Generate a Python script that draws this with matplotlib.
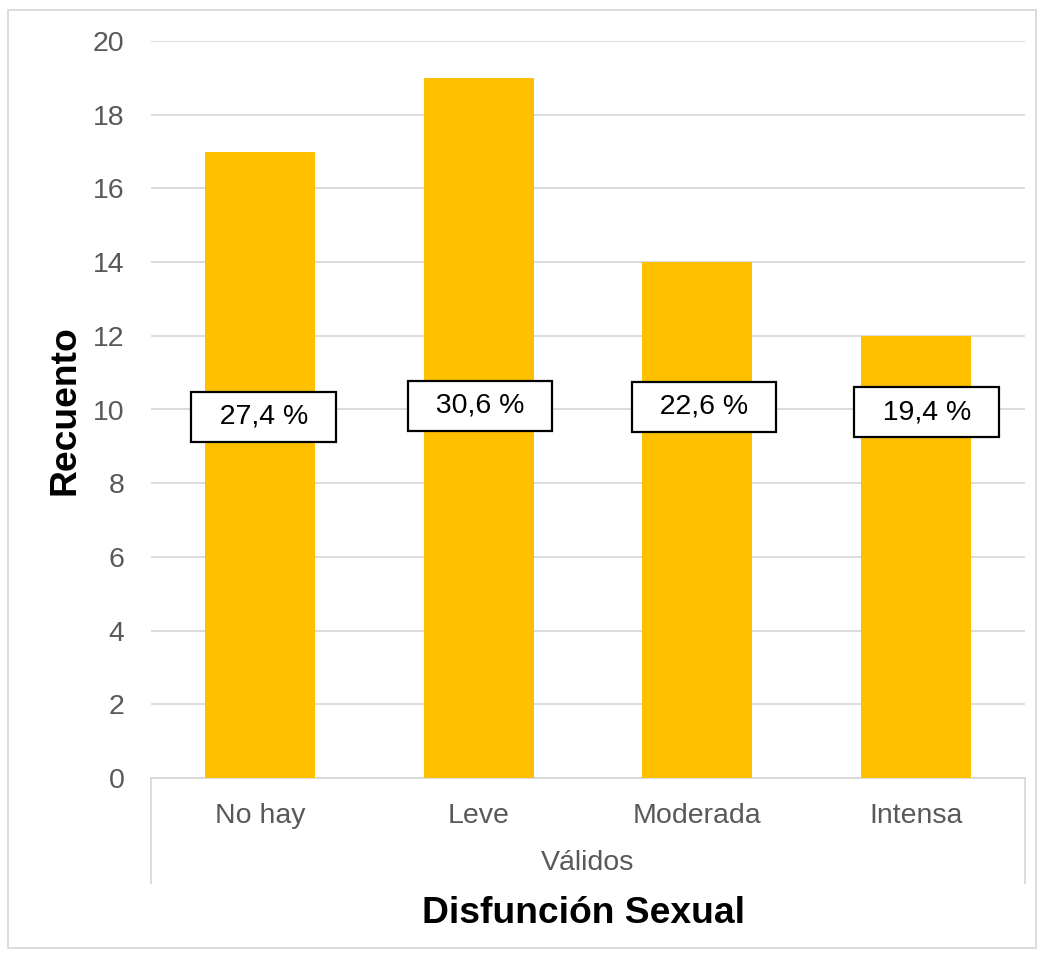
import matplotlib
matplotlib.use("Agg")
import matplotlib.pyplot as plt
from matplotlib.patches import Rectangle
from matplotlib.lines import Line2D

categories = ["No hay", "Leve", "Moderada", "Intensa"]
counts = [17, 19, 14, 12]
pct_labels = ["27,4 %", "30,6 %", "22,6 %", "19,4 %"]
label_y = [9.8, 10.1, 10.07, 9.93]
label_dx = [0.015, 0.005, 0.03, 0.05]
group_label = "Válidos"
x_title = "Disfunción Sexual"
y_title = "Recuento"
yticks = [0, 2, 4, 6, 8, 10, 12, 14, 16, 18, 20]

plt.rcParams['font.family'] = ['Liberation Sans', 'DejaVu Sans']

FS = 20.5
TFS = 26.8

fig = plt.figure(figsize=(10.43, 9.55), dpi=100)
ax = fig.add_axes([151/1043, 1-778/955, (1025-151)/1043, (778-41)/955])

x = list(range(len(categories)))
ax.bar(x, counts, width=0.505, color="#FFC000", zorder=3,
       edgecolor="none")
ax.set_xlim(-0.5, len(categories)-0.5)
ax.set_ylim(0, 20)
ax.set_yticks(yticks)
ax.yaxis.grid(True, color="#D9D9D9", linewidth=1.3, zorder=0)
ax.set_axisbelow(True)
for s in ["top", "right", "left"]:
    ax.spines[s].set_visible(False)
ax.spines["bottom"].set_color("#D9D9D9")
ax.spines["bottom"].set_linewidth(1.3)
ax.tick_params(axis="y", length=0, pad=19, labelsize=FS, labelcolor="#595959")
ax.tick_params(axis="x", length=0, pad=18, labelsize=FS, labelcolor="#595959")
ax.set_xticks(x)
ax.set_xticklabels(categories)

for xi, lab, ly, dx in zip(x, pct_labels, label_y, label_dx):
    ax.text(xi + dx, ly, "  " + lab + "  ", ha="center", va="center",
            fontsize=FS, color="black", zorder=5,
            bbox=dict(boxstyle="square,pad=0.43", facecolor="white",
                      edgecolor="black", linewidth=1.6))

# group bracket lines
for xe in [-0.5, len(categories)-0.5]:
    ax.add_line(Line2D([xe, xe], [0, -0.1425], transform=ax.get_xaxis_transform(),
                       color="#D9D9D9", linewidth=1.3, clip_on=False))
ax.text(0.5, -0.116, group_label, transform=ax.transAxes, ha="center", va="center",
        fontsize=FS, color="#595959")

fig.text((151+1025)/2/1043 - 0.004, 1-913/955, x_title, ha="center", va="center",
         fontsize=TFS, fontweight="bold", color="black")
fig.text(65/1043, 1-410/955, y_title, ha="center", va="center", rotation=90,
         fontsize=TFS, fontweight="bold", color="black")

# outer chart border
fig.patches.append(Rectangle((8/1043, 1-948/955), (1036-8)/1043, (948-10)/955,
                             transform=fig.transFigure, fill=False,
                             edgecolor="#D9D9D9", linewidth=1.3))

fig.savefig("out.png", dpi=100, facecolor="white")
